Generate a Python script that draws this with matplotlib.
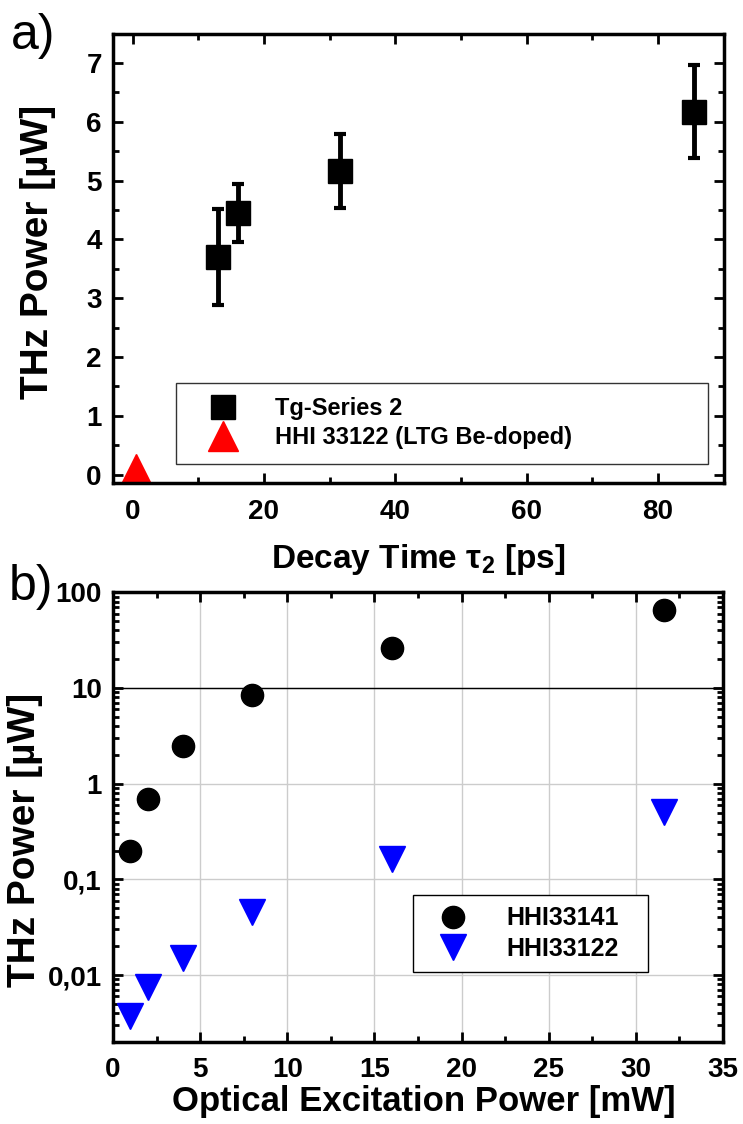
import matplotlib
matplotlib.use('Agg')
import matplotlib.pyplot as plt
from matplotlib.ticker import MultipleLocator, LogLocator, FixedLocator, FixedFormatter, NullFormatter

plt.rcParams['font.family'] = ['Liberation Sans', 'DejaVu Sans']
plt.rcParams['font.weight'] = 'bold'
plt.rcParams['axes.labelweight'] = 'bold'
plt.rcParams['mathtext.fontset'] = 'custom'
plt.rcParams['mathtext.rm'] = 'Liberation Sans:bold'
plt.rcParams['mathtext.it'] = 'Liberation Sans:bold'
plt.rcParams['mathtext.bf'] = 'Liberation Sans:bold'
plt.rcParams['mathtext.default'] = 'rm'

# panel a data
tau_tg = [13, 16, 31.5, 85.5]
power_tg = [3.7, 4.45, 5.17, 6.17]
err_tg = [0.82, 0.49, 0.63, 0.79]
tau_hhi = [0.5]
power_hhi = [0.1]

# panel b data
exc_power = [1, 2, 4, 8, 16, 31.6]
thz_33141 = [0.20, 0.69, 2.48, 8.5, 26.4, 65.0]
thz_33122 = [0.0037, 0.0075, 0.0149, 0.046, 0.162, 0.506]

log_ticks = [100, 10, 1, 0.1, 0.01]
log_labels = ['100', '10', '1', '0,1', '0,01']

fig = plt.figure(figsize=(7.43, 11.24), dpi=100)

def style(ax):
    for s in ax.spines.values():
        s.set_linewidth(2.5)
    ax.tick_params(which='both', direction='in', top=True, right=True, width=2,
                   labelsize=20, pad=8)
    ax.tick_params(axis='x', which='both', pad=11)
    ax.tick_params(which='major', length=7)
    ax.tick_params(which='minor', length=4)

# ---- a) ----
ax1 = fig.add_axes([0.152, 0.570, 0.822, 0.400])
eb = ax1.errorbar(tau_tg, power_tg, yerr=err_tg, fmt='s', color='k', ms=17,
                  elinewidth=3.5, capsize=4, capthick=3)
tri, = ax1.plot(tau_hhi, power_hhi, '^', color='red', ms=22)
ax1.set_xlim(-3, 90)
ax1.set_ylim(-0.15, 7.5)
ax1.xaxis.set_major_locator(MultipleLocator(20))
ax1.xaxis.set_minor_locator(MultipleLocator(10))
ax1.yaxis.set_major_locator(MultipleLocator(1))
ax1.yaxis.set_minor_locator(MultipleLocator(0.5))
style(ax1)
ax1.set_xlabel(r'Decay Time τ$_2$ [ps]', fontsize=24)
ax1.xaxis.set_label_coords(0.5, -0.13)
ax1.set_ylabel('THz Power [µW]', fontsize=28)
ax1.yaxis.set_label_coords(-0.093, 0.515)
leg1 = ax1.legend([eb[0], tri], ['Tg-Series 2', 'HHI 33122 (LTG Be-doped)'],
                  loc='lower left', bbox_to_anchor=(0.103, 0.044, 0.871, 0.185),
                  mode='expand', borderaxespad=0, fontsize=17, frameon=True,
                  fancybox=False, edgecolor='k', handletextpad=0.8, borderpad=0.6,
                  labelspacing=0.25, handlelength=2.8)
leg1.get_frame().set_linewidth(1)
fig.text(0.015, 0.956, 'a)', fontsize=36, fontweight='normal')

# ---- b) ----
ax2 = fig.add_axes([0.152, 0.073, 0.821, 0.400])
ax2.set_yscale('log')
ax2.grid(True, which='major', color='#cccccc', linewidth=1)
ax2.axhline(10, color='k', linewidth=1, zorder=1.5)
ax2.plot(exc_power, thz_33141, 'o', color='k', ms=16, label='HHI33141', zorder=3)
ax2.plot(exc_power, thz_33122, 'v', color='#0000ff', ms=19, label='HHI33122', zorder=3)
ax2.set_xlim(0, 35)
ax2.set_ylim(0.002, 100)
ax2.xaxis.set_major_locator(MultipleLocator(5))
ax2.xaxis.set_minor_locator(MultipleLocator(2.5))
ax2.yaxis.set_major_locator(FixedLocator(log_ticks))
ax2.yaxis.set_major_formatter(FixedFormatter(log_labels))
ax2.yaxis.set_minor_locator(LogLocator(base=10, subs=range(2, 10)))
ax2.yaxis.set_minor_formatter(NullFormatter())
style(ax2)
ax2.set_axisbelow(True)
ax2.set_xlabel('Optical Excitation Power [mW]', fontsize=25)
ax2.xaxis.set_label_coords(0.51, -0.095)
ax2.set_ylabel('THz Power [µW]', fontsize=28)
ax2.yaxis.set_label_coords(-0.114, 0.45)
leg2 = ax2.legend(loc='lower left', bbox_to_anchor=(0.492, 0.156, 0.385, 0.177),
                  mode='expand', borderaxespad=0, fontsize=18, frameon=True,
                  fancybox=False, edgecolor='k', handletextpad=1.0, borderpad=0.45,
                  labelspacing=0.25, framealpha=1, handlelength=2.3)
leg2.get_frame().set_linewidth(1)
fig.text(0.012, 0.466, 'b)', fontsize=36, fontweight='normal')

fig.savefig('out.png', dpi=100)
